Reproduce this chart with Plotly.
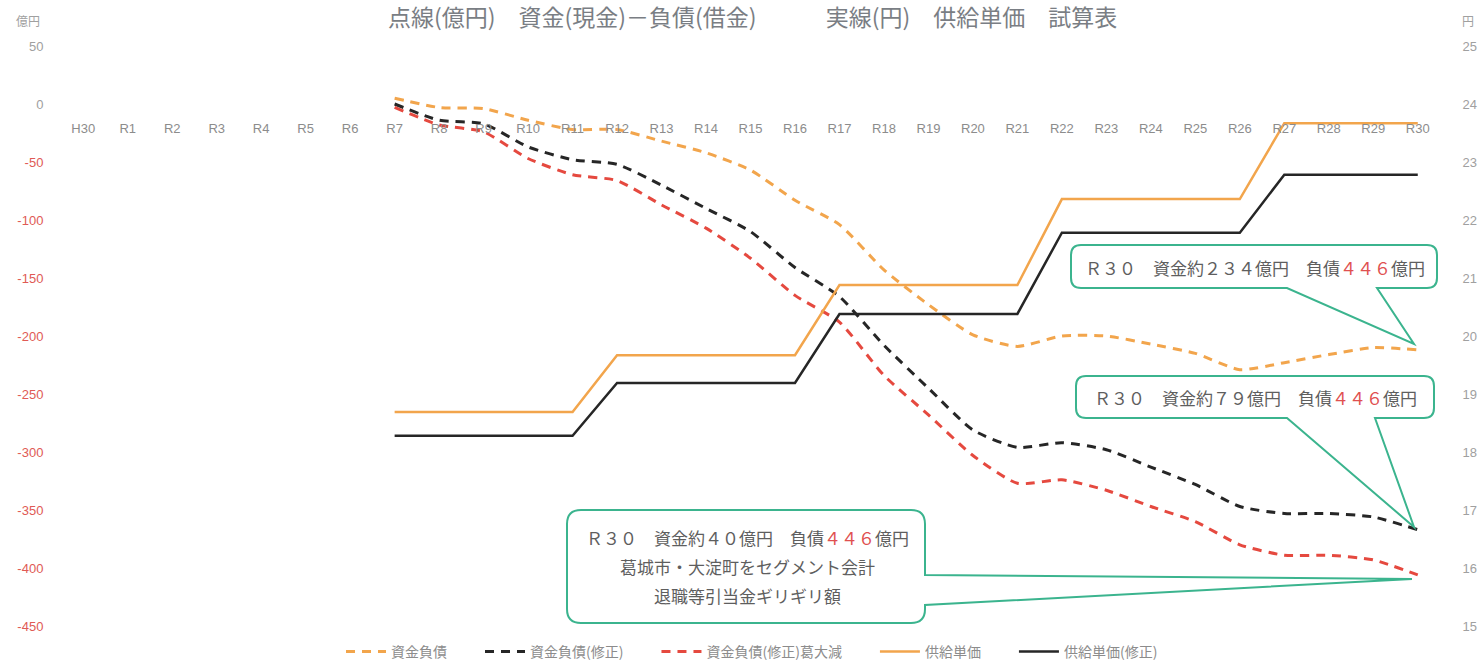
import plotly.graph_objects as go

# ---------------- data ----------------
categories = ["H30", "R1", "R2", "R3", "R4", "R5", "R6", "R7", "R8", "R9", "R10",
              "R11", "R12", "R13", "R14", "R15", "R16", "R17", "R18", "R19", "R20",
              "R21", "R22", "R23", "R24", "R25", "R26", "R27", "R28", "R29", "R30"]
series_cats = ["R7", "R8", "R9", "R10", "R11", "R12", "R13", "R14", "R15", "R16", "R17",
               "R18", "R19", "R20", "R21", "R22", "R23", "R24", "R25", "R26", "R27",
               "R28", "R29", "R30"]

shikin_fusai = [5, -3, -4, -14, -22, -22, -32, -42, -57, -83, -104, -143, -173, -199,
                -209, -200, -200, -207, -215, -229, -223, -216, -210, -212]
shikin_fusai_shusei = [0, -14, -17, -37, -48, -52, -70, -90, -110, -141, -166, -208, -245,
                       -281, -296, -292, -298, -313, -328, -347, -353, -353, -356, -367]
shikin_fusai_kadai = [-3, -18, -24, -47, -61, -66, -87, -107, -133, -165, -188, -234, -268,
                      -303, -327, -324, -333, -347, -360, -380, -389, -389, -393, -406]
kyokyu_tanka = [18.69, 18.69, 18.69, 18.69, 18.69, 19.67, 19.67, 19.67, 19.67, 19.67,
                20.88, 20.88, 20.88, 20.88, 20.88, 22.36, 22.36, 22.36, 22.36, 22.36,
                23.67, 23.67, 23.67, 23.67]
kyokyu_tanka_shusei = [18.28, 18.28, 18.28, 18.28, 18.28, 19.19, 19.19, 19.19, 19.19, 19.19,
                       20.38, 20.38, 20.38, 20.38, 20.38, 21.78, 21.78, 21.78, 21.78, 21.78,
                       22.78, 22.78, 22.78, 22.78]

left_ticks = [50, 0, -50, -100, -150, -200, -250, -300, -350, -400, -450]
right_ticks = [15, 16, 17, 18, 19, 20, 21, 22, 23, 24, 25]

# ---------------- styles ----------------
ORANGE = "#F2A54C"
BLACK = "#262626"
RED = "#E5493F"
GREEN = "#3BB48E"
GRAY = "#8C8C8C"
TXT = "#5E5E5E"
JP = "Noto Sans CJK JP"
NUM = "Liberation Sans Narrow, Liberation Sans, sans-serif"

W, H = 1478, 667
L, R, T, B = 61, 1440, 46, 626

xidx = [categories.index(c) for c in series_cats]
DASH = "9px,7px"
SP = "　　"

fig = go.Figure()
fig.add_trace(go.Scatter(x=xidx, y=shikin_fusai, name="資金負債" + SP, mode="lines",
                         line=dict(color=ORANGE, width=3, dash=DASH, shape="spline", smoothing=0.6)))
fig.add_trace(go.Scatter(x=xidx, y=shikin_fusai_shusei, name="資金負債(修正)" + SP, mode="lines",
                         line=dict(color=BLACK, width=3, dash=DASH, shape="spline", smoothing=0.6)))
fig.add_trace(go.Scatter(x=xidx, y=shikin_fusai_kadai, name="資金負債(修正)葛大減" + SP, mode="lines",
                         line=dict(color=RED, width=3, dash=DASH, shape="spline", smoothing=0.6)))
fig.add_trace(go.Scatter(x=xidx, y=kyokyu_tanka, name="供給単価" + SP, mode="lines", yaxis="y2",
                         line=dict(color=ORANGE, width=2.5)))
fig.add_trace(go.Scatter(x=xidx, y=kyokyu_tanka_shusei, name="供給単価(修正)", mode="lines", yaxis="y2",
                         line=dict(color=BLACK, width=2.5)))


def left_label(v):
    col = "#E05A55" if v < 0 else "#A0A0A0"
    return f"<span style='color:{col}'>{v}</span>"


def P(xp, yp):
    """pixel -> data coordinates (x index, left-axis value)"""
    x = (xp - L) / (R - L) * len(categories) - 0.5
    y = 50 - (yp - T) / (B - T) * 500
    return x, y


def pt(xp, yp):
    x, y = P(xp, yp)
    return f"{x:.4f},{y:.4f}"


def callout_path(x0, y0, x1, y1, r, ptr):
    s = "M " + pt(x0 + r, y0)
    s += " L " + pt(x1 - r, y0) + " Q " + pt(x1, y0) + " " + pt(x1, y0 + r)
    if ptr[0] == "right":
        s += " L " + pt(x1, ptr[1]) + " L " + pt(ptr[3], ptr[4]) + " L " + pt(x1, ptr[2])
    s += " L " + pt(x1, y1 - r) + " Q " + pt(x1, y1) + " " + pt(x1 - r, y1)
    if ptr[0] == "bottom":
        s += " L " + pt(ptr[2], y1) + " L " + pt(ptr[3], ptr[4]) + " L " + pt(ptr[1], y1)
    s += " L " + pt(x0 + r, y1) + " Q " + pt(x0, y1) + " " + pt(x0, y1 - r)
    s += " L " + pt(x0, y0 + r) + " Q " + pt(x0, y0) + " " + pt(x0 + r, y0) + " Z"
    return s


shapes = [
    dict(type="path", xref="x", yref="y", layer="above",
         path=callout_path(1071, 245, 1437, 288, 10, ("bottom", 1287, 1377, 1414, 344)),
         line=dict(color=GREEN, width=2), fillcolor="white"),
    dict(type="path", xref="x", yref="y", layer="above",
         path=callout_path(1076, 376, 1434, 418, 10, ("bottom", 1287, 1375, 1414, 527)),
         line=dict(color=GREEN, width=2), fillcolor="white"),
    dict(type="path", xref="x", yref="y", layer="above",
         path=callout_path(567, 510, 925, 623, 14, ("right", 575, 605, 1412, 579)),
         line=dict(color=GREEN, width=2), fillcolor="white"),
]

RED446 = "<span style='color:#E05050'>４４６</span>"
annotations = []


def add_text(text, xp, yp, size=17, color=TXT, family=JP):
    x, y = P(xp, yp)
    annotations.append(dict(text=text, x=x, y=y, xref="x", yref="y", showarrow=False,
                            xanchor="center", yanchor="middle",
                            font=dict(family=family, size=size, color=color)))


add_text("Ｒ３０　資金約２３４億円　負債" + RED446 + "億円", 1255, 267)
add_text("Ｒ３０　資金約７９億円　負債" + RED446 + "億円", 1255, 397)
add_text("Ｒ３０　資金約４０億円　負債" + RED446 + "億円", 747, 537)
add_text("葛城市・大淀町をセグメント会計", 747, 566)
add_text("退職等引当金ギリギリ額", 747, 595)

# title
annotations.append(dict(text="点線(億円)　資金(現金)－負債(借金)　　　実線(円)　供給単価　試算表",
                        xref="paper", yref="paper", x=(752 - L) / (R - L), y=(B - 16) / (B - T),
                        xanchor="center", yanchor="middle", showarrow=False,
                        font=dict(family=JP, size=23, color="#7A7E84")))
# axis titles
annotations.append(dict(text="億円", xref="paper", yref="paper", x=(28 - L) / (R - L),
                        y=(B - 20) / (B - T), xanchor="center", yanchor="middle", showarrow=False,
                        font=dict(family=JP, size=12, color="#A0A0A0")))
annotations.append(dict(text="円", xref="paper", yref="paper", x=(1468 - L) / (R - L),
                        y=(B - 20) / (B - T), xanchor="center", yanchor="middle", showarrow=False,
                        font=dict(family=JP, size=12, color="#A0A0A0")))

fig.update_layout(
    width=W, height=H,
    margin=dict(l=L, r=W - R, t=T, b=H - B, autoexpand=False),
    paper_bgcolor="white", plot_bgcolor="white",
    showlegend=True,
    legend=dict(orientation="h", x=752 / W, xref="container", xanchor="center",
                y=(H - 652) / H, yref="container", yanchor="middle",
                font=dict(family=JP, size=14, color=GRAY), itemwidth=40,
                tracegroupgap=0, bgcolor="rgba(0,0,0,0)"),
    xaxis=dict(range=[-0.5, len(categories) - 0.5], tickmode="array",
               tickvals=list(range(len(categories))), ticktext=categories,
               showgrid=False, zeroline=False, showline=False, automargin=False,
               anchor="free", position=0.9, ticks="outside", ticklen=12,
               tickcolor="rgba(0,0,0,0)",
               tickfont=dict(family=NUM, size=13, color=GRAY)),
    yaxis=dict(range=[-450, 50], tickmode="array", tickvals=left_ticks,
               ticktext=[left_label(v) for v in left_ticks], automargin=False,
               showgrid=False, zeroline=False, showline=False,
               ticks="outside", ticklen=14, tickcolor="rgba(0,0,0,0)",
               tickfont=dict(family=NUM, size=13, color=GRAY)),
    yaxis2=dict(range=[15, 25], overlaying="y", side="right", tickmode="array",
                tickvals=right_ticks, ticktext=[str(v) for v in right_ticks],
                showgrid=False, zeroline=False, showline=False, automargin=False,
                ticks="outside", ticklen=19, tickcolor="rgba(0,0,0,0)",
                tickfont=dict(family=NUM, size=13, color="#A0A0A0")),
    shapes=shapes,
    annotations=annotations,
)

fig.write_html("out.html")
